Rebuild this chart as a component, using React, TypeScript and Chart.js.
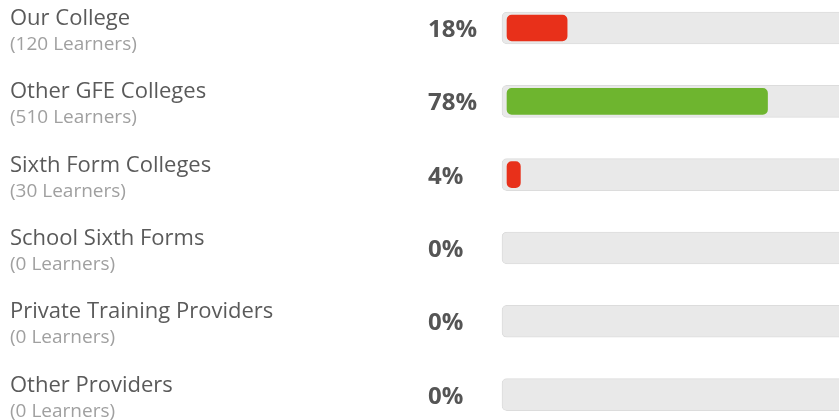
import React, { useEffect, useRef } from "react";
import { Chart, registerables } from "chart.js";

Chart.register(...registerables);

const categories = [
  "Our College",
  "Other GFE Colleges",
  "Sixth Form Colleges",
  "School Sixth Forms",
  "Private Training Providers",
  "Other Providers",
];
const learners = [120, 510, 30, 0, 0, 0];
const percentages = [18, 78, 4, 0, 0, 0];
const barColors = ["#e8301a", "#6eb52f", "#e8301a", "#e8301a", "#e8301a", "#e8301a"];
const trackRange: [number, number] = [-1.5, 101.5];

const FONT = "'Open Sans', 'Noto Sans', sans-serif";

const labelPlugin = {
  id: "rowLabels",
  afterDatasetsDraw(chart: any) {
    const ctx = chart.ctx;
    const yScale = chart.scales.y;
    ctx.save();
    ctx.textBaseline = "alphabetic";
    ctx.textAlign = "left";
    categories.forEach((name, i) => {
      const cy = yScale.getPixelForValue(i);
      ctx.fillStyle = "#5a5a5a";
      ctx.font = `400 22px ${FONT}`;
      ctx.fillText(name, 10, cy - 3);
      ctx.fillStyle = "#a0a0a0";
      ctx.font = `400 19px ${FONT}`;
      ctx.fillText(`(${learners[i]} Learners)`, 10, cy + 22);
      ctx.fillStyle = "#555555";
      ctx.font = `700 24px ${FONT}`;
      ctx.fillText(`${percentages[i]}%`, 428, cy + 9);
    });
    ctx.restore();
  },
};

export default function App() {
  const ref = useRef<HTMLCanvasElement>(null);
  useEffect(() => {
    document.body.style.margin = "0";
    const chart = new Chart(ref.current!, {
      type: "bar",
      data: {
        labels: categories,
        datasets: [
          {
            label: "Share",
            data: percentages,
            backgroundColor: (c: any) =>
              c.raw > 0 ? barColors[c.dataIndex] : "rgba(0,0,0,0)",
            borderWidth: 0,
            borderRadius: 5,
            borderSkipped: false,
            barThickness: 26,
            grouped: false,
            order: 1,
            clip: false,
          } as any,
          {
            label: "Track",
            data: categories.map(() => trackRange),
            backgroundColor: "#e9e9e9",
            borderColor: "#dcdcdc",
            borderWidth: 1,
            borderRadius: 5,
            borderSkipped: false,
            barThickness: 32,
            grouped: false,
            order: 2,
            clip: false,
          } as any,
        ],
      },
      options: {
        indexAxis: "y",
        responsive: false,
        animation: false,
        events: [],
        layout: { padding: { left: 502, right: 0, top: 28, bottom: 25.4 } },
        scales: {
          x: { type: "linear", min: trackRange[0], max: trackRange[1], display: false },
          y: { type: "category", offset: false, display: false },
        },
        plugins: { legend: { display: false }, tooltip: { enabled: false } },
      },
      plugins: [labelPlugin],
    });
    return () => chart.destroy();
  }, []);
  return (
    <div style={{ position: "fixed", left: 0, top: 0, width: 839, height: 420, overflow: "hidden", background: "#fff" }}>
      <canvas ref={ref} width={846} height={420} style={{ display: "block" }} />
    </div>
  );
}
